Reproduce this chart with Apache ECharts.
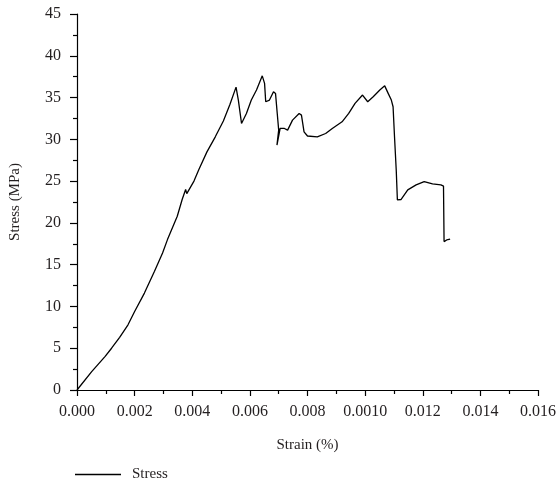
<!DOCTYPE html>
<html>
<head>
<meta charset="utf-8">
<script src="https://cdn.jsdelivr.net/npm/echarts@6/dist/echarts.min.js"></script>
<style>
html,body{margin:0;padding:0;background:#fff;}
#chart{width:560px;height:495px;}
</style>
</head>
<body>
<div id="chart"></div>
<script>
// Strain values (raw, as on the axis)
const strain = [
0.00000,0.00051,0.00097,0.00120,0.00148,0.00177,0.00200,0.00234,0.00269,0.00297,
0.00314,0.00348,0.00365,0.00377,0.00381,0.00386,0.00406,0.00423,0.00451,0.00480,
0.00508,0.00531,0.00552,0.00560,0.00571,0.00588,0.00605,0.00623,0.00643,0.00651,
0.00655,0.00668,0.00682,0.00689,0.00695,0.00700,0.00694,0.00705,0.00720,0.00731,
0.00748,0.00771,0.00779,0.00788,0.00800,0.00834,0.00863,0.00886,0.00920,0.00943,
0.00965,0.00991,0.01009,0.01028,0.01051,0.01068,0.01080,0.01091,0.01097,0.01102,
0.01108,0.01112,0.01125,0.01148,0.01177,0.01205,0.01234,0.01263,0.01272,0.01274,
0.01283,0.01295
];
// Stress values (MPa)
const stress = [
0.0,2.2,4.0,5.0,6.3,7.8,9.4,11.6,14.2,16.4,
18.0,20.8,22.8,24.0,23.5,23.6,25.0,26.4,28.5,30.3,
32.2,34.2,36.25,34.7,31.9,33.1,34.7,35.9,37.6,36.7,
34.5,34.7,35.7,35.5,33.1,31.1,29.3,31.3,31.3,31.1,
32.3,33.1,32.9,30.9,30.4,30.3,30.7,31.3,32.1,33.1,
34.3,35.3,34.5,35.1,35.9,36.4,35.5,34.7,33.9,30.3,
26.3,22.75,22.8,23.95,24.55,24.95,24.67,24.55,24.4,17.76,
17.96,18.05
];
const xTickLabels = ['0.000','0.002','0.004','0.006','0.008','0.0010','0.012','0.014','0.016'];
const yTickLabels = ['0','5','10','15','20','25','30','35','40','45'];
const seriesName = 'Stress';

const pts = strain.map((s,i)=>[s,stress[i]]);
const font = 'Liberation Serif';
const txt = '#231f20';
const chart = echarts.init(document.getElementById('chart'), null, {renderer:'canvas'});
chart.setOption({
  animation:false,
  backgroundColor:'#fff',
  grid:{left:72,right:22,top:14,bottom:105,containLabel:false},
  legend:{
    data:[seriesName],
    left:70, top:462,
    icon:'rect', itemWidth:46, itemHeight:1.4, itemGap:10,
    textStyle:{fontFamily:font,fontSize:15,color:txt,padding:[0,0,0,6]}
  },
  xAxis:{
    type:'value', min:0, max:0.016, interval:0.002,
    name:'Strain (%)', nameLocation:'middle', nameGap:48,
    nameTextStyle:{fontFamily:font,fontSize:15,color:txt},
    axisLine:{show:true,onZero:false,lineStyle:{color:'#000',width:1.2}},
    axisTick:{show:true,inside:false,length:6,lineStyle:{color:'#000',width:1.2}},
    minorTick:{show:true,splitNumber:2,length:4,lineStyle:{color:'#000',width:1.2}},
    splitLine:{show:false},
    axisLabel:{margin:14,fontFamily:font,fontSize:16,color:txt,
      formatter:v=>xTickLabels[Math.round(v/0.002)]}
  },
  yAxis:{
    type:'value', min:0, max:45, interval:5,
    name:'Stress (MPa)', nameLocation:'middle', nameGap:54,
    nameTextStyle:{fontFamily:font,fontSize:15,color:txt},
    axisLine:{show:true,lineStyle:{color:'#000',width:1.2}},
    axisTick:{show:true,inside:false,length:7,lineStyle:{color:'#000',width:1.2}},
    minorTick:{show:true,splitNumber:2,length:4,lineStyle:{color:'#000',width:1.2}},
    splitLine:{show:false},
    axisLabel:{margin:16,fontFamily:font,fontSize:16,color:txt,
      formatter:v=>yTickLabels[Math.round(v/5)]}
  },
  series:[{
    name:seriesName, type:'line', data:pts, showSymbol:false, symbol:'none',
    lineStyle:{color:'#000',width:1.3}, itemStyle:{color:'#000'}
  }]
});
</script>
</body>
</html>
